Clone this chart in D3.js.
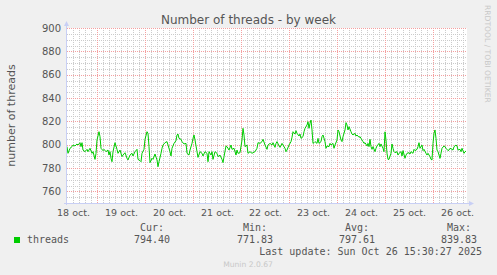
<!DOCTYPE html>
<html><head><meta charset="utf-8">
<script src="https://cdn.jsdelivr.net/npm/d3@7"></script>
<style>body{margin:0;background:#F0F0F0;overflow:hidden}</style>
</head><body><svg id="c" width="497" height="275"></svg>
<script>
const titleText = "Number of threads - by week";
const yLabel = "number of threads";
const startTime = "2025-10-18T09:00:00Z";
const endTime = "2025-10-26T17:00:00Z";
const dayLabelTimes = ["2025-10-18T12:00:00Z","2025-10-19T12:00:00Z","2025-10-20T12:00:00Z","2025-10-21T12:00:00Z","2025-10-22T12:00:00Z","2025-10-23T12:00:00Z","2025-10-24T12:00:00Z","2025-10-25T12:00:00Z","2025-10-26T12:00:00Z"];
const yTicks = [760,780,800,820,840,860,880,900];
const yDomain = [750, 900];
// hours after startTime
const hours = [0,0.5,1.5,2.5,3,4,5,5.5,6.5,7,7.5,8,9,10,10.5,11.5,12.5,13,14,14.5,15,16,16.5,17,18,18.5,19.5,20.5,21,21.5,22,22.5,23,24,25,25.5,26.5,27.5,28,29,30,30.5,31.5,32.5,33,34,35,35.5,36.5,37,37.5,38.5,39,40,40.5,41,41.5,42.5,43,44,45,45.5,46,47,47.5,48,
49,50,50.5,51.5,52,52.5,53.5,54.5,55,55.5,56,57,57.5,58.5,59.5,60,61,61.5,62.5,63,63.5,64,65,65.5,66.5,67.5,68,69,70,70.5,71,72,72.5,73,74,75,75.5,76.5,77.5,78,78.5,79.5,80,81,82,82.5,83.5,84.5,85,85.5,86.5,87.5,88,88.5,89,90,90.5,91.5,92.5,93,94,95,95.5,96.5,97.5,98,99,100,100.5,
101.5,102.5,103,104,104.5,105,106,106.5,107.5,108,109,109.5,110,111,112,112.5,113,114,114.5,115,116,116.5,117,118,118.5,119,120,120.5,121,121.5,122,122.5,123,123.5,124,125,125.5,126,127,127.5,128,129,129.5,130,131,131.5,132,133,133.5,134,135,135.5,136,137,137.5,138,139,139.5,140,140.5,141,142,142.5,143,144,144.5,145,146,146.5,147,148,148.5,149,150,150.5,151,
151.5,152,152.5,153,154,154.5,155,156,156.5,157,158,158.5,159,159.5,160,160.5,161,162,162.5,163,163.5,164,165,165.5,166,167,167.5,168,169,169.5,170,171,171.5,172,173,173.5,174,175,175.5,176,176.5,177.5,178,178.5,179.5,180,180.5,181.5,182,182.5,183,183.5,184,184.5,185,185.5,186.5,187,187.5,188.5,189,189.5,190.5,191,191.5,192.5,193,193.5,194.5,195,195.5,196.5,197,197.5,198.5,199,199.5];
const threads = [798.3,792.6,796.9,798.3,799.7,798.9,800.6,799.7,801.7,798.3,801.7,795.4,794,796,794,796.9,792.6,794,787.4,792.6,804,811.1,806.9,796.9,794.9,796,794,795.4,791.1,794,788.3,785.4,794,801.7,796,792.6,795.4,789.7,791.1,793.1,788.3,786.9,791.1,792.6,790.3,794,796,787.4,786.3,785.4,792.6,796,804.6,811.1,809.7,798.3,784.6,788.3,787.4,792,786.9,781.1,785.4,792.6,796.9,799.7,
801.7,802.6,799.7,794,790.3,796.9,801.1,803.4,808.3,809.1,805.4,804.6,802.6,800.6,801.1,792.6,791.1,795.4,801.1,805.4,808.3,804,794,789.1,794,792.6,790.3,794,792.6,785.4,794,791.1,794,787.4,794,792.6,789.7,791.1,787.4,784.6,789.7,798.9,798.3,795.4,799.7,796,796.9,791.1,795.4,792.6,793.1,804,814,808.3,798.3,799.7,792.6,794,792.6,793.1,794,796.9,801.7,801.1,802.6,804.6,799.7,796,799.7,
801.1,799.7,801.7,797.7,801.1,802.6,798.9,797.7,801.1,799.7,796.9,794,795.4,799.7,802.6,806.3,811.1,809.1,812,809.7,807.4,809.1,805.4,806.9,811.1,814,816.9,819.7,814,818.3,821.1,812.6,801.1,801.7,802.6,801.1,805.4,801.1,802.6,806.9,808.3,802.6,796.9,798.9,798.3,801.1,799.7,801.1,796.9,799.7,804,812.6,811.1,804,802.6,806.9,812.6,818.9,816.9,812.6,815.4,811.1,809.1,808.3,809.7,807.4,808.3,806.3,806.9,805.4,802.6,801.1,801.7,798.9,801.1,798.3,
804.6,798.3,796,798.3,794,796.9,798.9,801.1,798.3,800.6,796.9,794,811,804,792.6,787.4,787.4,792.6,800.6,796.9,794,793.1,794,791.1,792.6,794,790.3,794.9,788.3,791.1,792.6,793.1,792,794,792.6,796,794.9,796,798.3,801.7,796.9,799.7,794.9,796,792.6,791.1,792.6,789.7,787.4,786.9,801.1,809.7,812.6,805.4,795.4,794,788.3,792.6,796.9,798.9,798.3,796.9,794.9,795.4,796.9,796,795.4,798.3,799.7,798.9,795.4,796,794,796.9,792.6,794,794.4];
const seriesName = "threads";
const legendHeaders = ["Cur:", "Min:", "Avg:", "Max:"];
const legendValues = ["794.40", "771.83", "797.61", "839.83"];
const lastUpdate = "Last update: Sun Oct 26 15:30:27 2025";
const watermark = "RRDTOOL / TOBI OETIKER";
const footer = "Munin 2.0.67";

const svg = d3.select("#c");
const L = 67, T = 28, W = 400, H = 175;
const t0 = new Date(startTime), t1 = new Date(endTime);
const x = d3.scaleUtc().domain([t0, t1]).range([L, L + W]);
const y = d3.scaleLinear().domain(yDomain).range([T + H, T]);
const textCol = "#555";

svg.append("rect").attr("width", 497).attr("height", 275).attr("fill", "#F0F0F0");
svg.append("rect").attr("x", L).attr("y", T).attr("width", W).attr("height", H).attr("fill", "#fff");

// grids
const g = svg.append("g").attr("shape-rendering", "crispEdges");
const minorY = d3.range(yDomain[0] + 5, yDomain[1] + 1, 5).filter(v => v % 20 !== 0);
g.selectAll(".hmin").data(minorY).join("line")
  .attr("x1", L).attr("x2", L + W).attr("y1", d => Math.round(y(d)) + 0.5).attr("y2", d => Math.round(y(d)) + 0.5)
  .attr("stroke", "#cbcbcb").attr("stroke-dasharray", "1,1");
const minorX = d3.utcHour.every(3).range(d3.utcHour.offset(t0, 1), t1).filter(d => d.getUTCHours() !== 0);
g.selectAll(".vmin").data(minorX).join("line")
  .attr("x1", d => Math.round(x(d)) + 0.5).attr("x2", d => Math.round(x(d)) + 0.5).attr("y1", T).attr("y2", T + H)
  .attr("stroke", "#cbcbcb").attr("stroke-dasharray", "1,1");
g.selectAll(".hmaj").data(yTicks).join("line")
  .attr("x1", L).attr("x2", L + W).attr("y1", d => Math.round(y(d)) + 0.5).attr("y2", d => Math.round(y(d)) + 0.5)
  .attr("stroke", "#f4a0a0").attr("stroke-dasharray", "1,1");
const majorX = d3.utcDay.range(t0, t1);
g.selectAll(".vmaj").data(majorX).join("line")
  .attr("x1", d => Math.round(x(d)) + 0.5).attr("x2", d => Math.round(x(d)) + 0.5).attr("y1", T).attr("y2", T + H)
  .attr("stroke", "#f4a0a0").attr("stroke-dasharray", "1,1");

// data line
const pts = hours.map((h, i) => ({t: new Date(t0.getTime() + h * 3600000), v: threads[i]}));
svg.append("path").datum(pts)
  .attr("d", d3.line().x(d => x(d.t)).y(d => y(d.v)))
  .attr("fill", "none").attr("stroke", "#00CC00").attr("stroke-width", 1);

// axes
const axCol = "#c8cff5";
const a = svg.append("g").attr("shape-rendering", "crispEdges");
a.append("line").attr("x1", L - 0.5).attr("x2", L - 0.5).attr("y1", T - 2).attr("y2", T + H + 2).attr("stroke", axCol);
a.append("line").attr("x1", L - 3).attr("x2", L + W + 3).attr("y1", T + H + 0.5).attr("y2", T + H + 0.5).attr("stroke", axCol);
svg.append("path").attr("d", `M${L-3},${T-2}L${L+2},${T-2}L${L-0.5},${T-7}Z`).attr("fill", axCol);
svg.append("path").attr("d", `M${L+W+2},${T+H-2}L${L+W+2},${T+H+3}L${L+W+7},${T+H+0.5}Z`).attr("fill", axCol);

const yAxis = svg.append("g").attr("transform", `translate(${L},0)`)
  .call(d3.axisLeft(y).tickValues(yTicks).tickSize(0).tickPadding(6).tickFormat(d3.format("d")));
yAxis.select(".domain").remove();
yAxis.selectAll("text").attr("font-family", "DejaVu Sans").attr("font-size", "10px").attr("fill", textCol);

const xAxis = svg.append("g").attr("transform", `translate(0,${T + H})`)
  .call(d3.axisBottom(x).tickValues(dayLabelTimes.map(s => new Date(s))).tickSize(0).tickPadding(6).tickFormat(d3.utcFormat("%-d oct.")));
xAxis.select(".domain").remove();
xAxis.selectAll("text").attr("font-family", "DejaVu Sans").attr("font-size", "9.5px").attr("fill", textCol);

// title and labels
svg.append("text").attr("x", 248.5).attr("y", 24).attr("text-anchor", "middle")
  .attr("font-family", "DejaVu Sans").attr("font-size", "12px").attr("fill", textCol).text(titleText);
svg.append("text").attr("transform", `translate(15,${T + H / 2}) rotate(-90)`).attr("text-anchor", "middle")
  .attr("font-family", "DejaVu Sans").attr("font-size", "11px").attr("fill", textCol).text(yLabel);
svg.append("text").attr("transform", "translate(485,5) rotate(90)").attr("text-anchor", "start")
  .attr("font-family", "DejaVu Sans").attr("font-size", "7.6px").attr("fill", "#c8c8c8").text(watermark);

// legend
const mono = "DejaVu Sans Mono";
svg.append("rect").attr("x", 14).attr("y", 237).attr("width", 6).attr("height", 6).attr("fill", "#00CC00");
svg.append("text").attr("x", 27).attr("y", 243).attr("font-family", mono).attr("font-size", "10px").attr("fill", textCol).text(seriesName);
const colRight = [170, 273, 375, 477];
legendHeaders.forEach((h, i) => {
  svg.append("text").attr("x", colRight[i] - 6).attr("y", 231).attr("text-anchor", "end")
    .attr("font-family", mono).attr("font-size", "10px").attr("fill", textCol).text(h);
  svg.append("text").attr("x", colRight[i]).attr("y", 243).attr("text-anchor", "end")
    .attr("font-family", mono).attr("font-size", "10px").attr("fill", textCol).text(legendValues[i]);
});
svg.append("text").attr("x", 482).attr("y", 255).attr("text-anchor", "end")
  .attr("font-family", mono).attr("font-size", "10px").attr("fill", textCol).text(lastUpdate);
svg.append("text").attr("x", 248).attr("y", 267).attr("text-anchor", "middle")
  .attr("font-family", "DejaVu Sans").attr("font-size", "7.6px").attr("fill", "#c8c8c8").text(footer);
</script></body></html>
